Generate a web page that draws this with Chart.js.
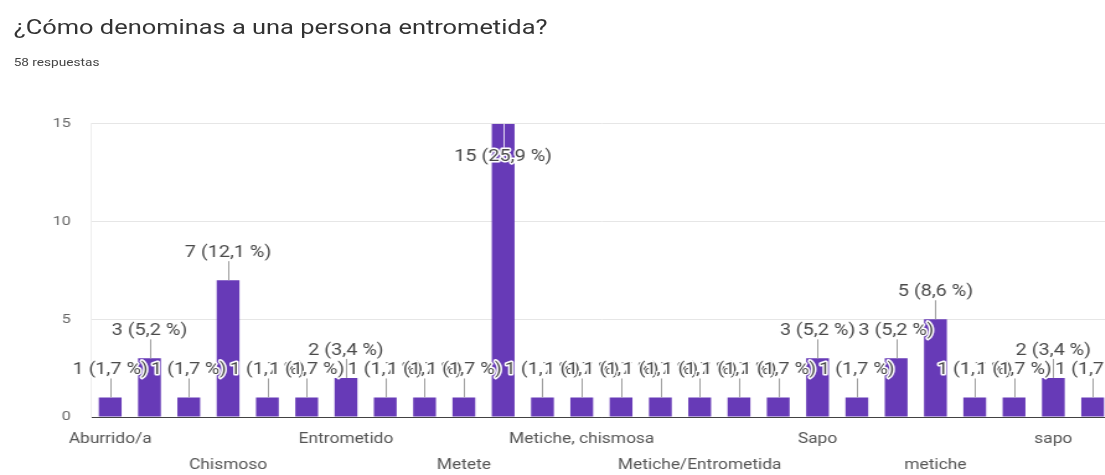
<!DOCTYPE html>
<html lang="es">
<head>
    <meta charset="UTF-8">
    <title>¿Cómo denominas a una persona entrometida?</title>
    <script src="https://cdn.jsdelivr.net/npm/chart.js"></script>
    <style>
        html, body { margin: 0; padding: 0; background: #fff; overflow: hidden; width: 1105px; height: 475px; }
        /* todo el bloque se ensancha un poco en horizontal */
        .lienzo { position: absolute; left: 0; top: 0; width: 900px; height: 475px; transform: scaleX(1.24); transform-origin: 0 0; font-family: Roboto, Arial, sans-serif; }
        h1 { position: absolute; left: 11px; top: 14px; margin: 0; font-size: 20.5px; font-weight: 400; color: #333; line-height: 26px; white-space: nowrap; }
        .resp { position: absolute; left: 11px; top: 56px; font-size: 11px; color: #444; white-space: nowrap; }
        .grafico { position: absolute; left: 0; top: 100px; width: 897px; height: 375px; }
    </style>
</head>
<body>
    <div class="lienzo">
        <h1>¿Cómo denominas a una persona entrometida?</h1>
        <div class="resp" id="resp"></div>
        <div class="grafico">
            <canvas id="barras"></canvas>
        </div>
    </div>

    <script>
        // Respuestas por categoría (solo algunas etiquetas se ven en el eje)
        var categorias = ['Aburrido/a', '', '', 'Chismoso', '', '', 'Entrometido', '', '', 'Metete', '', '', 'Metiche, chismosa', '', '', 'Metiche/Entrometida', '', '', 'Sapo', '', '', 'metiche', '', '', 'sapo', ''];
        var respuestas = [1, 3, 1, 7, 1, 1, 2, 1, 1, 1, 15, 1, 1, 1, 1, 1, 1, 1, 3, 1, 3, 5, 1, 1, 2, 1];
        var ticksY = [0, 5, 10, 15];

        var total = respuestas.reduce(function (a, b) { return a + b; }, 0);
        document.getElementById('resp').textContent = total + ' respuestas';

        // Etiqueta "n (p %)" con su línea guía encima de cada barra
        var etiquetasBarras = {
            id: 'etiquetasBarras',
            afterDatasetsDraw: function (chart) {
                var ctx = chart.ctx;
                var meta = chart.getDatasetMeta(0);
                ctx.save();
                ctx.font = '16px Roboto, Arial, sans-serif';
                ctx.textAlign = 'center';
                ctx.textBaseline = 'middle';
                ctx.lineJoin = 'round';
                meta.data.forEach(function (barra, i) {
                    var v = respuestas[i];
                    var texto = v + ' (' + (v / total * 100).toFixed(1).replace('.', ',') + ' %)';
                    var dentro = barra.y - 40 < chart.chartArea.top;
                    var finLinea = dentro ? barra.y + 24 : barra.y - 19;
                    var ty = dentro ? barra.y + 33 : barra.y - 27;
                    var x = Math.round(barra.x) + 0.5;
                    ctx.strokeStyle = dentro ? 'rgba(255,255,255,0.8)' : '#9e9e9e';
                    ctx.lineWidth = 1;
                    ctx.beginPath();
                    ctx.moveTo(x, barra.y);
                    ctx.lineTo(x, finLinea);
                    ctx.stroke();
                    ctx.strokeStyle = '#fff';
                    ctx.lineWidth = 3;
                    ctx.strokeText(texto, barra.x, ty);
                    ctx.fillStyle = '#4a4a4a';
                    ctx.fillText(texto, barra.x, ty);
                });
                ctx.restore();
            }
        };

        var grafico = new Chart(document.getElementById('barras'), {
            type: 'bar',
            data: {
                labels: categorias,
                datasets: [{
                    data: respuestas,
                    backgroundColor: '#673ab7',
                    barPercentage: 0.58,
                    categoryPercentage: 1
                }]
            },
            options: {
                responsive: true,
                maintainAspectRatio: false,
                animation: false,
                layout: { padding: { top: 22, right: 0, left: 0, bottom: 0 } },
                plugins: {
                    legend: { display: false },
                    tooltip: { enabled: false }
                },
                scales: {
                    x: {
                        grid: { display: false },
                        border: { color: '#424242' },
                        ticks: {
                            autoSkip: false,
                            maxRotation: 0,
                            padding: 2,
                            color: '#555',
                            font: { family: 'Roboto, Arial, sans-serif', size: 14, lineHeight: 1.85 },
                            callback: function (valor, i) {
                                var nombre = categorias[i];
                                if (!nombre) return '';
                                // las etiquetas alternan entre dos filas
                                return (i / 3) % 2 === 1 ? ['', nombre] : nombre;
                            }
                        },
                        afterFit: function (s) { s.height = 58; }
                    },
                    y: {
                        min: 0,
                        max: 15,
                        afterBuildTicks: function (s) {
                            s.ticks = ticksY.map(function (v) { return { value: v }; });
                        },
                        grid: {
                            drawTicks: false,
                            tickLength: 0,
                            color: function (c) { return c.tick && c.tick.value === 0 ? '#424242' : '#e6e6e6'; }
                        },
                        border: { display: true, color: '#eeeeee' },
                        ticks: {
                            padding: 16,
                            color: '#666',
                            font: { family: 'Roboto, Arial, sans-serif', size: 13 }
                        },
                        afterFit: function (s) { s.width = 73; }
                    }
                }
            },
            plugins: [etiquetasBarras]
        });
    </script>
</body>
</html>
